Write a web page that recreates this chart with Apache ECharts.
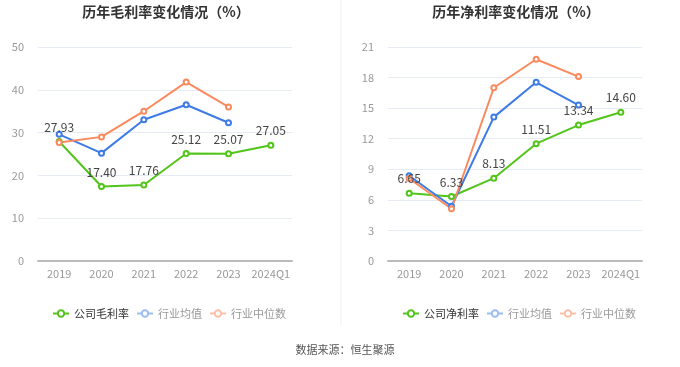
<!DOCTYPE html>
<html>
<head>
<meta charset="utf-8">
<script src="https://cdn.jsdelivr.net/npm/echarts@6/dist/echarts.min.js"></script>
<style>html,body{margin:0;padding:0;background:#fff;}#c{width:680px;height:367px;}</style>
</head>
<body>
<div id="c"></div>
<script>
var categories = ['2019', '2020', '2021', '2022', '2023', '2024Q1'];
var grossCompany = [27.93, 17.40, 17.76, 25.12, 25.07, 27.05];
var grossIndustryMean = [29.6, 25.2, 33.0, 36.5, 32.3, null];
var grossIndustryMedian = [27.7, 29.0, 35.0, 41.8, 36.0, null];
var netCompany = [6.65, 6.33, 8.13, 11.51, 13.34, 14.60];
var netIndustryMean = [8.36, 5.37, 14.12, 17.54, 15.3, null];
var netIndustryMedian = [8.1, 5.13, 17.0, 19.8, 18.1, null];

var GREEN = '#52c41a', BLUE = '#3e7be6', ORANGE = '#f98a5e';
var chart = echarts.init(document.getElementById('c'));
var font = 'Noto Sans CJK SC';

function xAx(gi){
  return {type:'category', gridIndex:gi, data:categories, boundaryGap:true,
    axisLine:{lineStyle:{color:'#bbb', width:2}}, axisTick:{show:false},
    axisLabel:{color:'#999', fontSize:11, margin:7, interval:0, fontFamily:font}};
}
function yAx(gi, max, interval){
  return {type:'value', gridIndex:gi, min:0, max:max, interval:interval,
    axisLine:{show:false}, axisTick:{show:false},
    axisLabel:{color:'#999', fontSize:11, margin:14, fontFamily:font},
    splitLine:{lineStyle:{color:'#e6eaf4'}}};
}
function ser(name, data, color, gi, label){
  return {name:name, type:'line', xAxisIndex:gi, yAxisIndex:gi, data:data,
    symbol:'emptyCircle', symbolSize:5, lineStyle:{width:2, color:color},
    itemStyle:{color:color}, connectNulls:false,
    label:{show:label, position:'top', color:'#444', fontSize:12, fontFamily:font,
      formatter:function(p){return p.value.toFixed(2);}}};
}
function legend(left, first){
  return {top:303, left:left, width:320, itemWidth:16, itemHeight:8, itemGap:7,
    textStyle:{fontSize:11, fontFamily:font, color:'#333'},
    data:[{name:first, textStyle:{color:'#333'}},
      {name:'行业均值', textStyle:{color:'#999'}, itemStyle:{color:'#9dbcf3'}, lineStyle:{color:'#9dbcf3'}},
      {name:'行业中位数', textStyle:{color:'#999'}, itemStyle:{color:'#fcc0a8'}, lineStyle:{color:'#fcc0a8'}}]};
}

chart.setOption({
  animation:false,
  title:[
    {text:'历年毛利率变化情况（%）', left:161, top:0, textAlign:'center',
      textStyle:{fontSize:14, fontWeight:'bold', color:'#333', fontFamily:font}},
    {text:'历年净利率变化情况（%）', left:511, top:0, textAlign:'center',
      textStyle:{fontSize:14, fontWeight:'bold', color:'#333', fontFamily:font}},
    {text:'数据来源：恒生聚源', left:340, top:339, textAlign:'center',
      textStyle:{fontSize:11, fontWeight:'normal', color:'#555', fontFamily:font}}
  ],
  legend:[legend(47, '公司毛利率'), legend(397, '公司净利率')],
  grid:[
    {left:38, right:388, top:47, bottom:106},
    {left:388, right:38, top:47, bottom:106}
  ],
  xAxis:[xAx(0), xAx(1)],
  yAxis:[yAx(0, 50, 10), yAx(1, 21, 3)],
  graphic:[{type:'line', shape:{x1:341, y1:0, x2:341, y2:325}, style:{stroke:'#eee', lineWidth:1}}],
  series:[
    ser('公司毛利率', grossCompany, GREEN, 0, true),
    ser('行业均值', grossIndustryMean, BLUE, 0, false),
    ser('行业中位数', grossIndustryMedian, ORANGE, 0, false),
    ser('公司净利率', netCompany, GREEN, 1, true),
    ser('行业均值', netIndustryMean, BLUE, 1, false),
    ser('行业中位数', netIndustryMedian, ORANGE, 1, false)
  ]
});
</script>
</body>
</html>
